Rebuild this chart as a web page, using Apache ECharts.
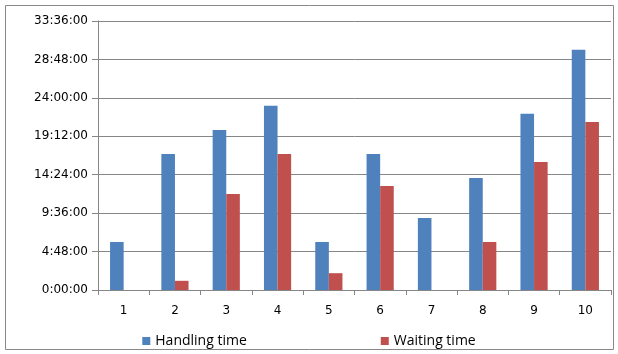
<!DOCTYPE html>
<html><head><meta charset="utf-8">
<script src="https://cdn.jsdelivr.net/npm/echarts@6/dist/echarts.min.js"></script>
<style>html,body{margin:0;padding:0;background:#fff}#c{width:618px;height:354px}</style>
</head><body><div id="c"></div>
<script>
const categories = ['1','2','3','4','5','6','7','8','9','10'];
// values in hours
const handlingTime = [6, 17, 20, 23, 6, 17, 9, 14, 22, 30];
const waitingTime = [0, 1.15, 12, 17, 2.1, 13, 0, 6, 16, 21];
const seriesNames = ['Handling time', 'Waiting time'];

function fmt(h){
  const totalSec = Math.round(h*3600);
  const H = Math.floor(totalSec/3600);
  const M = Math.floor((totalSec%3600)/60);
  const S = totalSec%60;
  return H + ':' + String(M).padStart(2,'0') + ':' + String(S).padStart(2,'0');
}
const chart = echarts.init(document.getElementById('c'), null, {renderer:'canvas'});
chart.setOption({
  animation:false,
  backgroundColor:'#fff',
  textStyle:{fontFamily:'DejaVu Sans'},
  graphic:[{type:'rect',shape:{x:5.5,y:5.5,width:608,height:344},style:{fill:'none',stroke:'#888',lineWidth:1},silent:true}],
  grid:{left:98,right:7,top:21,bottom:64,containLabel:false},
  legend:{top:334,left:'center',padding:0,itemWidth:8,itemHeight:8,itemGap:134,icon:'rect',
    itemStyle:{borderWidth:0},
    textStyle:{fontFamily:'Open Sans',fontSize:14,color:'#000'},data:seriesNames},
  xAxis:{type:'category',data:categories,
    axisLine:{lineStyle:{color:'#868686'}},
    axisTick:{show:true,length:5,lineStyle:{color:'#868686'}},
    axisLabel:{color:'#000',fontSize:12,margin:15}},
  yAxis:{type:'value',min:0,max:33.6,interval:4.8,
    axisLine:{show:true,lineStyle:{color:'#868686'}},
    axisTick:{show:true,length:6,lineStyle:{color:'#868686'}},
    splitLine:{lineStyle:{color:'#868686'}},
    axisLabel:{color:'#000',fontSize:12,margin:10,formatter:fmt}},
  series:[
    {name:seriesNames[0],type:'bar',data:handlingTime,barWidth:'26.5%',barGap:'0%',barCategoryGap:'47%',
     itemStyle:{color:'#4F81BD'}},
    {name:seriesNames[1],type:'bar',data:waitingTime,barWidth:'26.5%',barGap:'0%',
     itemStyle:{color:'#C0504D'}}
  ]
});
</script></body></html>
